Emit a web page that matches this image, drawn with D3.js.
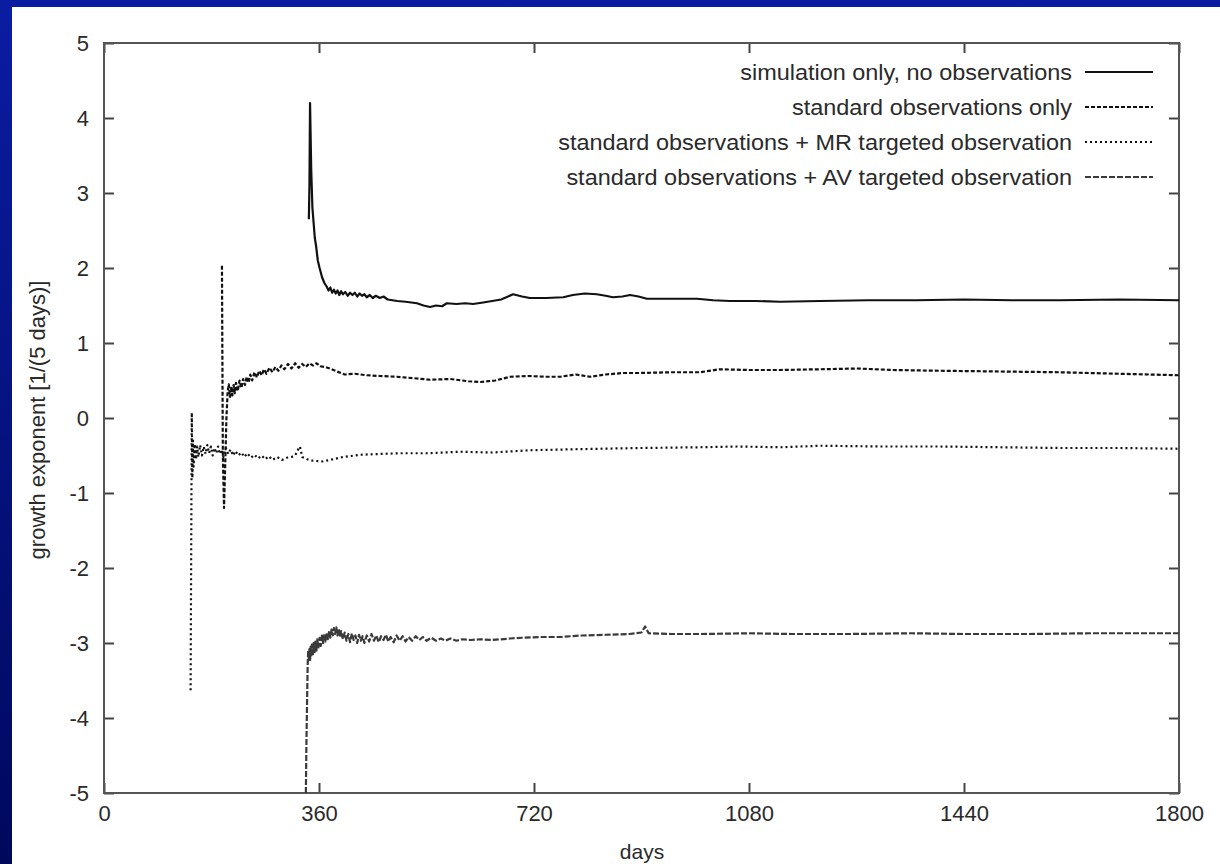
<!DOCTYPE html>
<html>
<head>
<meta charset="utf-8">
<script src="https://cdn.jsdelivr.net/npm/d3@7"></script>
<style>
  body { margin: 0; background: #00085e; }
  svg { display: block; }
  text { font-family: "Liberation Sans", Arial, Helvetica, sans-serif; fill: #2a2a2a; }
</style>
</head>
<body>
<svg id="chart" width="1220" height="864"></svg>
<script>
// ---- data: growth exponent [1/(5 days)] against days ----
const xTicks = [0, 360, 720, 1080, 1440, 1800];
const yTicks = [-5, -4, -3, -2, -1, 0, 1, 2, 3, 4, 5];

const legendLabels = [
  "simulation only, no observations",
  "standard observations only",
  "standard observations + MR targeted observation",
  "standard observations + AV targeted observation"
];

// simulation only, no observations
const simDays = [343, 344, 345, 347, 349, 351, 353, 355, 358, 361, 365, 369, 373, 376, 379, 382, 385, 388, 391, 394,
  397, 400, 404, 408, 412, 416, 420, 424, 428, 432, 436, 440, 445, 450, 455, 462, 468, 475, 491, 505,
  524, 535, 546, 556, 566, 574, 590, 605, 618, 635, 650, 665, 685, 700, 713, 740, 769, 785, 805, 825,
  840, 852, 868, 881, 895, 909, 950, 993, 1020, 1048, 1090, 1132, 1200, 1280, 1360, 1440, 1520, 1600, 1700, 1800];
const simVals = [2.65, 3.1, 4.2, 3.3, 2.8, 2.6, 2.4, 2.3, 2.1, 2.0, 1.88, 1.8, 1.75, 1.70, 1.74, 1.67, 1.71, 1.66, 1.70, 1.64,
  1.69, 1.65, 1.68, 1.63, 1.67, 1.64, 1.67, 1.62, 1.66, 1.63, 1.65, 1.61, 1.64, 1.60, 1.63, 1.60, 1.62, 1.58, 1.56, 1.55,
  1.53, 1.50, 1.48, 1.50, 1.49, 1.53, 1.52, 1.53, 1.52, 1.54, 1.56, 1.58, 1.65, 1.62, 1.60, 1.60, 1.61, 1.64, 1.66, 1.65,
  1.63, 1.61, 1.62, 1.64, 1.62, 1.59, 1.59, 1.59, 1.57, 1.56, 1.56, 1.55, 1.56, 1.57, 1.57, 1.58, 1.57, 1.57, 1.58, 1.57];

// standard observations only
const stdDays = [197.5, 199, 201, 203, 205, 207, 209, 211, 213, 215, 217, 219, 221, 224, 227, 230, 233, 236, 239, 242,
  245, 248, 252, 256, 260, 264, 268, 272, 277, 282, 287, 292, 297, 302, 308, 314, 320, 326, 332, 338,
  344, 350, 356, 362, 370, 378, 390, 403, 420, 440, 462, 490, 520, 546, 580, 610, 630, 655, 680, 710,
  740, 764, 790, 814, 840, 870, 897, 950, 998, 1031, 1080, 1132, 1200, 1260, 1320, 1400, 1500, 1600, 1700, 1800];
const stdVals = [2.03, -0.5, -1.2, -0.6, 0.0, 0.35, 0.45, 0.28, 0.42, 0.3, 0.44, 0.33, 0.47, 0.36, 0.5, 0.4, 0.52, 0.44, 0.55, 0.47,
  0.58, 0.5, 0.61, 0.54, 0.63, 0.57, 0.65, 0.59, 0.67, 0.61, 0.68, 0.63, 0.7, 0.65, 0.72, 0.66, 0.73, 0.67, 0.72, 0.68,
  0.73, 0.7, 0.73, 0.69, 0.68, 0.66, 0.62, 0.58, 0.59, 0.57, 0.56, 0.55, 0.53, 0.51, 0.52, 0.49, 0.48, 0.5, 0.55, 0.56,
  0.55, 0.55, 0.58, 0.55, 0.58, 0.6, 0.6, 0.61, 0.61, 0.65, 0.64, 0.64, 0.65, 0.66, 0.64, 0.63, 0.62, 0.61, 0.59, 0.57];

// standard observations + MR targeted observation
const mrDays = [145, 147, 148, 149, 150, 152, 154, 156, 158, 161, 164, 167, 170, 173, 176, 179, 182, 185, 188, 191,
  194, 197, 200, 204, 208, 212, 216, 220, 225, 230, 235, 240, 246, 252, 258, 264, 270, 276, 282, 290,
  298, 306, 314, 320, 325, 328, 332, 340, 350, 365, 378, 400, 429, 460, 496, 540, 596, 650, 713, 770,
  830, 900, 998, 1060, 1132, 1200, 1300, 1400, 1500, 1600, 1700, 1800];
const mrVals = [-3.63, 0.07, -0.8, -0.3, -0.65, -0.35, -0.55, -0.38, -0.52, -0.36, -0.5, -0.38, -0.48, -0.36, -0.47, -0.38, -0.5, -0.4, -0.47, -0.38,
  -0.48, -0.42, -0.52, -0.4, -0.48, -0.42, -0.5, -0.44, -0.5, -0.46, -0.52, -0.47, -0.53, -0.49, -0.54, -0.5, -0.55, -0.51, -0.56, -0.52,
  -0.56, -0.53, -0.52, -0.5, -0.42, -0.38, -0.52, -0.55, -0.57, -0.58, -0.56, -0.52, -0.49, -0.48, -0.47, -0.47, -0.45, -0.46, -0.43, -0.42,
  -0.41, -0.4, -0.39, -0.38, -0.39, -0.37, -0.38, -0.38, -0.39, -0.4, -0.4, -0.41];

// standard observations + AV targeted observation
const avDays = [338, 339, 340, 341, 342, 343, 344, 345, 346, 347, 348, 350, 351, 353, 354, 356, 357, 359, 361, 363,
  365, 367, 369, 371, 373, 375, 377, 379, 381, 383, 385, 387, 389, 391, 393, 395, 397, 400, 403, 406,
  409, 412, 415, 418, 421, 424, 427, 430, 433, 436, 440, 444, 448, 452, 456, 460, 464, 468, 472, 476,
  480, 485, 490, 495, 500, 505, 510, 516, 522, 528, 534, 540, 548, 556, 564, 572, 580, 590, 600, 615,
  630, 650, 680, 700, 730, 763, 800, 840, 880, 900, 906, 912, 950, 1000, 1080, 1150, 1250, 1350, 1440, 1550,
  1650, 1800];
const avVals = [-5.0, -4.3, -3.8, -3.3, -3.1, -3.22, -3.08, -3.25, -3.05, -3.18, -3.02, -3.15, -3.0, -3.12, -2.98, -3.1, -2.95, -3.06, -2.93, -3.04,
  -2.9, -3.0, -2.88, -2.98, -2.86, -2.95, -2.84, -2.93, -2.82, -2.9, -2.8, -2.88, -2.79, -2.9, -2.81, -2.92, -2.84, -2.95, -2.86, -2.97,
  -2.88, -2.99, -2.87, -2.96, -2.9, -3.0, -2.89, -2.97, -2.91, -3.0, -2.9, -2.98, -2.88, -2.97, -2.9, -2.99, -2.91, -2.96, -2.89, -2.98,
  -2.92, -2.99, -2.9, -2.97, -2.91, -2.98, -2.92, -2.97, -2.91, -2.96, -2.92, -2.97, -2.93, -2.97, -2.94, -2.97, -2.94, -2.97, -2.95, -2.96,
  -2.95, -2.96, -2.94, -2.93, -2.92, -2.92, -2.9, -2.89, -2.88, -2.86, -2.78, -2.87, -2.88, -2.88, -2.87, -2.88, -2.88, -2.87, -2.88, -2.88,
  -2.87, -2.87];

// line styles per series (solid, dashed, dotted, long dash)
const styles = [
  { color: "#111", width: 2.2, dash: null },
  { color: "#111", width: 2.2, dash: "4,2" },
  { color: "#111", width: 2.2, dash: "2,3" },
  { color: "#3a3a3a", width: 2.2, dash: "6,2" }
];

const series = [
  { days: simDays, vals: simVals },
  { days: stdDays, vals: stdVals },
  { days: mrDays, vals: mrVals },
  { days: avDays, vals: avVals }
];

// ---- layout ----
const W = 1220, H = 864;
const plot = { left: 104, right: 1179, top: 43, bottom: 793 };

const svg = d3.select("#chart");

// blue slide background and white panel
const defs = svg.append("defs");
const grad = defs.append("linearGradient").attr("id", "bg").attr("x1", 0).attr("y1", 0).attr("x2", 0).attr("y2", 1);
grad.append("stop").attr("offset", "0%").attr("stop-color", "#0a1ca2");
grad.append("stop").attr("offset", "100%").attr("stop-color", "#00085c");
svg.append("rect").attr("width", W).attr("height", H).attr("fill", "url(#bg)");
svg.append("rect").attr("x", 12).attr("y", 7).attr("width", W - 12).attr("height", H - 7).attr("fill", "#fff");

defs.append("clipPath").attr("id", "plotClip")
  .append("rect")
  .attr("x", plot.left).attr("y", plot.top)
  .attr("width", plot.right - plot.left).attr("height", plot.bottom - plot.top);

const x = d3.scaleLinear().domain([0, 1800]).range([plot.left, plot.right]);
const y = d3.scaleLinear().domain([-5, 5]).range([plot.bottom, plot.top]);

// plain hyphen-minus for negative labels
const fmt = d => String(d);

// axes with inward ticks, mirrored on top and right
const fontSize = "22px";
const gx = svg.append("g").attr("transform", `translate(0,${plot.bottom})`)
  .call(d3.axisBottom(x).tickValues(xTicks).tickFormat(fmt).tickSizeInner(-10).tickSizeOuter(0).tickPadding(12));
const gxTop = svg.append("g").attr("transform", `translate(0,${plot.top})`)
  .call(d3.axisTop(x).tickValues(xTicks).tickFormat("").tickSizeInner(-10).tickSizeOuter(0));
const gy = svg.append("g").attr("transform", `translate(${plot.left},0)`)
  .call(d3.axisLeft(y).tickValues(yTicks).tickFormat(fmt).tickSizeInner(-10).tickSizeOuter(0).tickPadding(15));
const gyRight = svg.append("g").attr("transform", `translate(${plot.right},0)`)
  .call(d3.axisRight(y).tickValues(yTicks).tickFormat("").tickSizeInner(-10).tickSizeOuter(0));

[gx, gxTop, gy, gyRight].forEach(g => {
  g.select(".domain").remove();
  g.selectAll(".tick line").attr("stroke", "#444").attr("stroke-width", 2);
  g.selectAll(".tick text").attr("font-size", fontSize).attr("fill", "#333")
    .style("font-family", "'Liberation Sans', Arial, sans-serif");
});

// plot frame
svg.append("rect")
  .attr("x", plot.left).attr("y", plot.top)
  .attr("width", plot.right - plot.left).attr("height", plot.bottom - plot.top)
  .attr("fill", "none").attr("stroke", "#555").attr("stroke-width", 2);

// axis titles
svg.append("text")
  .attr("x", (plot.left + plot.right) / 2 + 0.5).attr("y", 859)
  .attr("text-anchor", "middle").attr("font-size", "21px")
  .text("days");
svg.append("text")
  .attr("transform", "translate(45,420) rotate(-90)")
  .attr("text-anchor", "middle").attr("font-size", "22px")
  .text("growth exponent [1/(5 days)]");

// curves
const line = d3.line().x(d => x(d[0])).y(d => y(d[1]));
const gLines = svg.append("g").attr("clip-path", "url(#plotClip)");
series.forEach((s, i) => {
  const pts = s.days.map((d, k) => [d, s.vals[k]]);
  const st = styles[i];
  gLines.append("path")
    .datum(pts)
    .attr("d", line)
    .attr("fill", "none")
    .attr("stroke", st.color)
    .attr("stroke-width", st.width)
    .attr("stroke-linejoin", "round")
    .attr("stroke-dasharray", st.dash);
});

// legend, right-aligned text with line samples; text is set slightly wide
const legend = svg.append("g");
legendLabels.forEach((label, i) => {
  const cy = 72 + i * 35;
  const st = styles[i];
  const t = legend.append("text")
    .attr("x", 1072).attr("y", cy + 8)
    .attr("text-anchor", "end").attr("font-size", fontSize)
    .text(label);
  const len = t.node().getComputedTextLength();
  t.attr("textLength", len * 1.065).attr("lengthAdjust", "spacingAndGlyphs");
  legend.append("line")
    .attr("x1", 1085).attr("x2", 1153).attr("y1", cy).attr("y2", cy)
    .attr("stroke", st.color).attr("stroke-width", st.width)
    .attr("stroke-dasharray", st.dash);
});
</script>
</body>
</html>
